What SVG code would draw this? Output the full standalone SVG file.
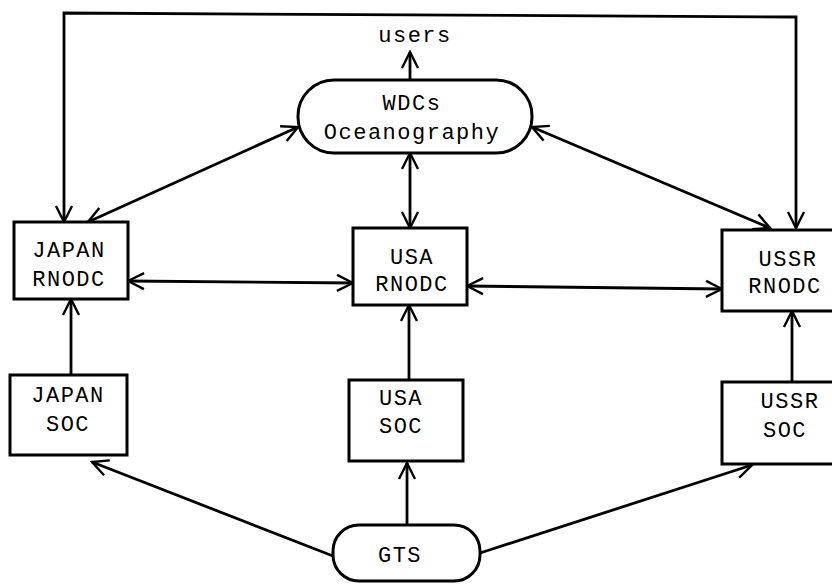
<svg xmlns="http://www.w3.org/2000/svg" width="832" height="584" viewBox="0 0 832 584">
<defs>
<marker id="ah" viewBox="0 0 24 24" refX="22" refY="12" markerWidth="24" markerHeight="24" markerUnits="userSpaceOnUse" orient="auto-start-reverse">
<path d="M6,4 L22,12 L6,20" fill="none" stroke="#000" stroke-width="2.4"/>
</marker>
<style>
.n{fill:#fff;stroke:#000;stroke-width:3}
.t{font-family:"Liberation Mono","DejaVu Sans Mono",monospace;font-size:22px;letter-spacing:1.5px;text-anchor:middle;fill:#000}
.c line,.c polyline{stroke:#000;stroke-width:2.8;fill:none}
</style>
</defs>
<rect width="832" height="584" fill="#fff"/>
<g class="c">
<polyline points="64,222 64,13 796,17 796,228" marker-start="url(#ah)" marker-end="url(#ah)"/>
<line x1="410" y1="80" x2="410" y2="52" marker-end="url(#ah)"/>
<line x1="298" y1="127" x2="88" y2="222" marker-start="url(#ah)" marker-end="url(#ah)"/>
<line x1="532" y1="127" x2="770" y2="228" marker-start="url(#ah)" marker-end="url(#ah)"/>
<line x1="410" y1="153" x2="410" y2="228" marker-start="url(#ah)" marker-end="url(#ah)"/>
<line x1="128" y1="281" x2="353" y2="283" marker-start="url(#ah)" marker-end="url(#ah)"/>
<line x1="467" y1="286" x2="722" y2="289" marker-start="url(#ah)" marker-end="url(#ah)"/>
<line x1="71" y1="375" x2="71" y2="299" marker-end="url(#ah)"/>
<line x1="409" y1="380" x2="409" y2="305" marker-end="url(#ah)"/>
<line x1="792" y1="382" x2="792" y2="311" marker-end="url(#ah)"/>
<line x1="333" y1="556" x2="92" y2="462" marker-end="url(#ah)"/>
<line x1="407" y1="525" x2="407" y2="463" marker-end="url(#ah)"/>
<line x1="480" y1="553" x2="752" y2="465" marker-end="url(#ah)"/>
</g>
<g id="users"><text class="t" x="415" y="42">users</text></g>
<g id="wdcs"><rect class="n" x="298" y="80" width="234" height="73" rx="36" ry="36"/>
<text class="t" x="412" y="110">WDCs</text><text class="t" x="412" y="139">Oceanography</text></g>
<g id="japan-rnodc"><rect class="n" x="14" y="222" width="114" height="77"/>
<text class="t" x="69" y="257">JAPAN</text><text class="t" x="69" y="286">RNODC</text></g>
<g id="usa-rnodc"><rect class="n" x="353" y="228" width="114" height="77"/>
<text class="t" x="412" y="264">USA</text><text class="t" x="412" y="291">RNODC</text></g>
<g id="ussr-rnodc"><rect class="n" x="722" y="230" width="114" height="81"/>
<text class="t" x="788" y="266">USSR</text><text class="t" x="785" y="293">RNODC</text></g>
<g id="japan-soc"><rect class="n" x="10" y="375" width="117" height="80"/>
<text class="t" x="68" y="402">JAPAN</text><text class="t" x="68" y="431">SOC</text></g>
<g id="usa-soc"><rect class="n" x="349" y="380" width="114" height="81"/>
<text class="t" x="401" y="405">USA</text><text class="t" x="401" y="433">SOC</text></g>
<g id="ussr-soc"><rect class="n" x="722" y="382" width="114" height="82"/>
<text class="t" x="790" y="408">USSR</text><text class="t" x="785" y="437">SOC</text></g>
<g id="gts"><rect class="n" x="333" y="525" width="147" height="56" rx="26" ry="26"/>
<text class="t" x="400" y="562">GTS</text></g>
</svg>
